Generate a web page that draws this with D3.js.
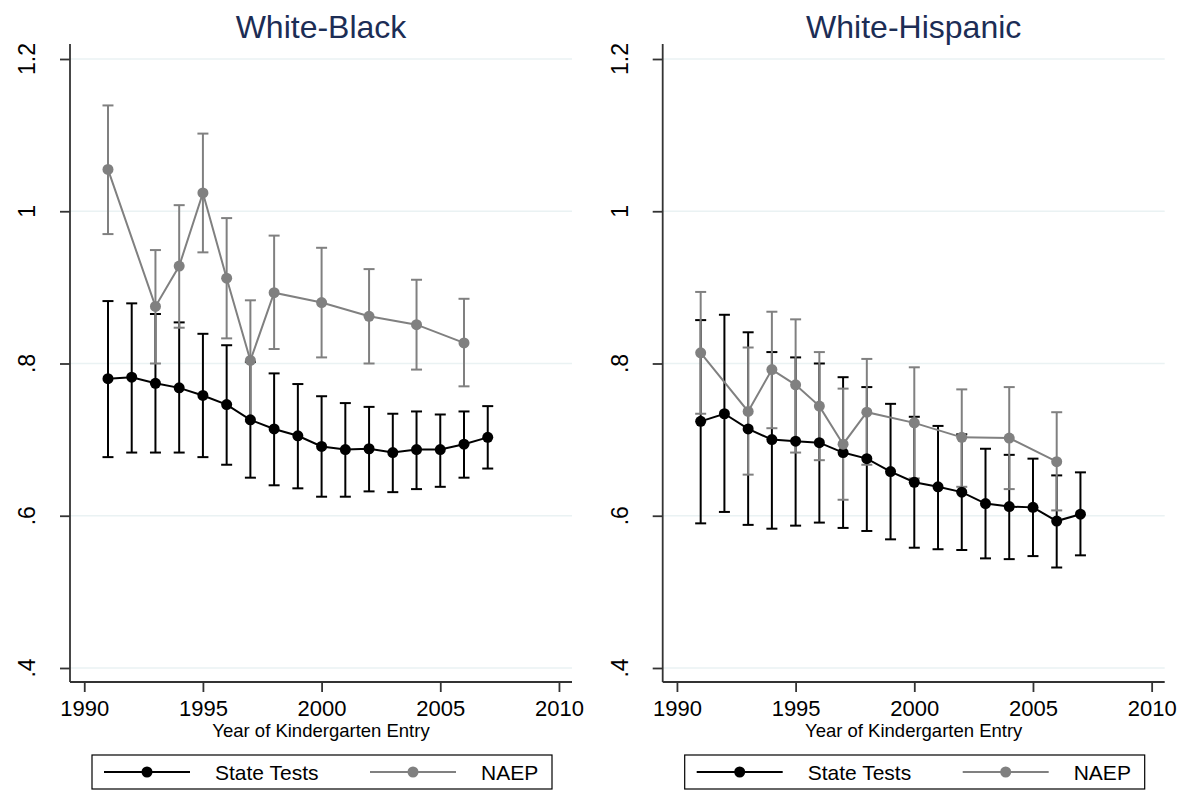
<!DOCTYPE html>
<meta charset="utf-8">
<style>
 body { margin: 0; background: white; }
 svg { display: block; font-family: 'Liberation Sans', Arial, sans-serif; }
</style>
<svg width="1186" height="798"></svg>
<script src="https://d3js.org/d3.v7.min.js"></script>
<script>
 // ---- data ----
 var stateYears = [1991, 1992, 1993, 1994, 1995, 1996, 1997, 1998, 1999, 2000, 2001, 2002, 2003, 2004, 2005, 2006, 2007];
 var naepYears = [1991, 1993, 1994, 1995, 1996, 1997, 1998, 2000, 2002, 2004, 2006];

 // White-Black
 var wbState   = [0.780, 0.782, 0.774, 0.768, 0.758, 0.746, 0.726, 0.714, 0.705, 0.691, 0.687, 0.688, 0.683, 0.687, 0.687, 0.694, 0.703];
 var wbStateLo = [0.677, 0.683, 0.683, 0.683, 0.677, 0.667, 0.650, 0.640, 0.636, 0.625, 0.625, 0.632, 0.631, 0.635, 0.638, 0.650, 0.662];
 var wbStateHi = [0.882, 0.879, 0.865, 0.854, 0.839, 0.824, 0.802, 0.787, 0.773, 0.757, 0.748, 0.743, 0.734, 0.737, 0.733, 0.737, 0.744];
 var wbNaep    = [1.055, 0.875, 0.928, 1.024, 0.912, 0.804, 0.893, 0.880, 0.862, 0.851, 0.827];
 var wbNaepLo  = [0.970, 0.800, 0.847, 0.946, 0.833, 0.724, 0.819, 0.808, 0.800, 0.792, 0.770];
 var wbNaepHi  = [1.139, 0.949, 1.008, 1.102, 0.991, 0.883, 0.968, 0.952, 0.924, 0.910, 0.885];

 // White-Hispanic
 var whState   = [0.724, 0.734, 0.714, 0.700, 0.698, 0.696, 0.683, 0.675, 0.658, 0.644, 0.638, 0.631, 0.616, 0.612, 0.611, 0.593, 0.602];
 var whStateLo = [0.590, 0.605, 0.588, 0.583, 0.587, 0.591, 0.584, 0.580, 0.569, 0.558, 0.556, 0.555, 0.544, 0.543, 0.547, 0.532, 0.548];
 var whStateHi = [0.857, 0.864, 0.841, 0.815, 0.808, 0.800, 0.782, 0.769, 0.747, 0.730, 0.718, 0.707, 0.688, 0.680, 0.675, 0.653, 0.657];
 var whNaep    = [0.814, 0.737, 0.792, 0.772, 0.744, 0.694, 0.736, 0.722, 0.703, 0.702, 0.671];
 var whNaepLo  = [0.734, 0.654, 0.715, 0.683, 0.673, 0.621, 0.667, 0.649, 0.638, 0.635, 0.607];
 var whNaepHi  = [0.894, 0.821, 0.868, 0.858, 0.815, 0.767, 0.806, 0.795, 0.766, 0.769, 0.736];

 var xTicks = [1990, 1995, 2000, 2005, 2010];
 var yTicks = [0.4, 0.6, 0.8, 1, 1.2];
 var seriesNames = ['State Tests', 'NAEP'];

 var panels = [
     { title: 'White-Black', left: 70,
       state: [wbState, wbStateLo, wbStateHi], naep: [wbNaep, wbNaepLo, wbNaepHi] },
     { title: 'White-Hispanic', left: 662.7,
       state: [whState, whStateLo, whStateHi], naep: [whNaep, whNaepLo, whNaepHi] }
 ];

 var svg = d3.select('svg');
 var plotW = 502, plotTop = 44, plotBottom = 682;
 var gray = '#808080';

 function tickFmt(d) {
     return d === 1 ? '1' : d === 1.2 ? '1.2' : d3.format('.1f')(d).replace(/^0/, '');
 }

 panels.forEach(function(p) {
     var g = svg.append('g');
     var x = d3.scaleLinear().domain([1989.4, 2010.55]).range([p.left, p.left + plotW]);
     var y = d3.scaleLinear().domain([0.3816, 1.2197]).range([plotBottom, plotTop]);

     // gridlines
     g.selectAll('.grid').data(yTicks).enter().append('line')
         .attr('x1', p.left).attr('x2', p.left + plotW)
         .attr('y1', y).attr('y2', y)
         .attr('stroke', '#eaf2f3').attr('stroke-width', 1.5);

     // axes
     var yAxis = g.append('g').attr('transform', 'translate(' + p.left + ',0)')
         .call(d3.axisLeft(y).tickValues(yTicks).tickSize(10).tickFormat(tickFmt));
     yAxis.selectAll('.tick text').remove();
     g.selectAll('.ylab').data(yTicks).enter().append('text')
         .attr('transform', function(d) { return 'translate(' + (p.left - 35) + ',' + y(d) + ') rotate(-90)'; })
         .attr('text-anchor', 'middle')
         .style('font-size', '23px').attr('fill', '#000')
         .text(tickFmt);

     var xAxis = g.append('g').attr('transform', 'translate(0,' + plotBottom + ')')
         .call(d3.axisBottom(x).tickValues(xTicks).tickSize(10).tickPadding(8).tickFormat(d3.format('d')));
     xAxis.selectAll('text').style('font-size', '22px').attr('fill', '#000');
     xAxis.attr('font-family', null);
     yAxis.attr('font-family', null);
     [yAxis, xAxis].forEach(function(a) {
         a.select('.domain').attr('stroke', '#333').attr('stroke-width', 1.8);
         a.selectAll('.tick line').attr('stroke', '#333').attr('stroke-width', 1.8);
     });
     yAxis.select('.domain').attr('d', 'M0,' + plotTop + 'V' + plotBottom);
     xAxis.select('.domain').attr('d', 'M' + p.left + ',0H' + (p.left + plotW));

     // titles
     g.append('text').attr('x', p.left + plotW / 2).attr('y', 38)
         .attr('text-anchor', 'middle').style('font-size', '32px').attr('fill', '#1c2d55')
         .text(p.title);
     g.append('text').attr('x', p.left + plotW / 2).attr('y', 737)
         .attr('text-anchor', 'middle').style('font-size', '18.5px').attr('fill', '#000')
         .text('Year of Kindergarten Entry');

     // confidence caps
     function caps(years, lo, hi, color) {
         var cg = g.append('g').attr('stroke', color).attr('stroke-width', 2).attr('fill', 'none');
         years.forEach(function(yr, i) {
             var cx = x(yr);
             cg.append('line').attr('x1', cx).attr('x2', cx).attr('y1', y(lo[i])).attr('y2', y(hi[i]));
             [lo[i], hi[i]].forEach(function(v) {
                 cg.append('line').attr('x1', cx - 5.5).attr('x2', cx + 5.5).attr('y1', y(v)).attr('y2', y(v));
             });
         });
     }
     function connected(years, est, color, r) {
         var pts = years.map(function(yr, i) { return [yr, est[i]]; });
         g.append('path').datum(pts)
             .attr('d', d3.line().x(function(d) { return x(d[0]); }).y(function(d) { return y(d[1]); }))
             .attr('fill', 'none').attr('stroke', color).attr('stroke-width', 2);
         g.selectAll(null).data(pts).enter().append('circle')
             .attr('cx', function(d) { return x(d[0]); }).attr('cy', function(d) { return y(d[1]); })
             .attr('r', r).attr('fill', color);
     }
     caps(stateYears, p.state[1], p.state[2], '#000');
     caps(naepYears, p.naep[1], p.naep[2], gray);
     connected(stateYears, p.state[0], '#000', 5.5);
     connected(naepYears, p.naep[0], gray, 5.5);

     // legend
     var lx = p.left + 22, ly = 772;
     var lg = g.append('g').attr('transform', 'translate(' + lx + ',' + ly + ')');
     lg.append('rect').attr('x', 0).attr('y', -17).attr('width', 460).attr('height', 34)
         .attr('fill', 'white').attr('stroke', '#000').attr('stroke-width', 1.2);
     [['#000', 12], [gray, 278]].forEach(function(s, i) {
         lg.append('line').attr('x1', s[1]).attr('x2', s[1] + 86).attr('y1', 0).attr('y2', 0)
             .attr('stroke', s[0]).attr('stroke-width', 2);
         lg.append('circle').attr('cx', s[1] + 43).attr('cy', 0).attr('r', 5.5).attr('fill', s[0]);
         lg.append('text').attr('x', s[1] + 111).attr('y', 7.5)
             .style('font-size', '21px').attr('fill', '#000').text(seriesNames[i]);
     });
 });
</script>
